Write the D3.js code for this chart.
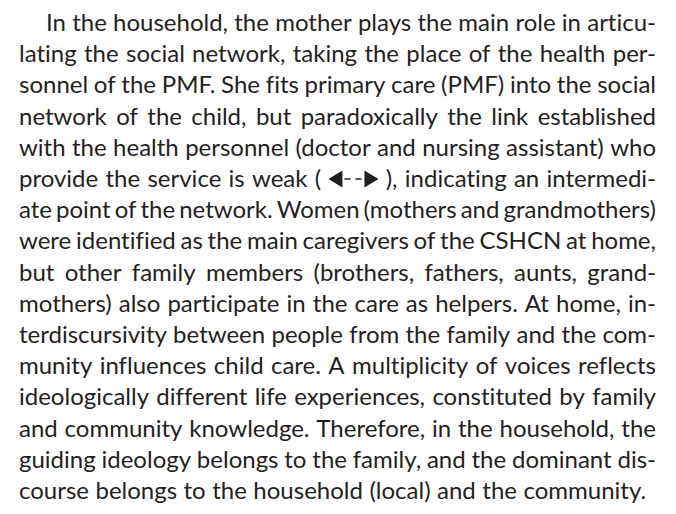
<!DOCTYPE html>
<meta charset="utf-8">
<head>
<style>
  body { margin: 0; background: #fff; }
  text { font-family: Lato, "Open Sans", sans-serif; fill: #231f20; font-variant-ligatures: none; }
</style>
</head>
<body>
<script src="https://d3js.org/d3.v7.js"></script>
<svg width="676" height="514"></svg>
<script>

    // paragraph lines as printed (hyphenation kept); "<->" marks the dashed arrow
    var lines = [
        "In the household, the mother plays the main role in articu-",
        "lating the social network, taking the place of the health per-",
        "sonnel of the PMF. She fits primary care (PMF) into the social",
        "network of the child, but paradoxically the link established",
        "with the health personnel (doctor and nursing assistant) who",
        "provide the service is weak ( <-> ), indicating an intermedi-",
        "ate point of the network. Women (mothers and grandmothers)",
        "were identified as the main caregivers of the CSHCN at home,",
        "but other family members (brothers, fathers, aunts, grand-",
        "mothers) also participate in the care as helpers. At home, in-",
        "terdiscursivity between people from the family and the com-",
        "munity influences child care. A multiplicity of voices reflects",
        "ideologically different life experiences, constituted by family",
        "and community knowledge. Therefore, in the household, the",
        "guiding ideology belongs to the family, and the dominant dis-",
        "course belongs to the household (local) and the community."
    ];
    var indented = [0];          // paragraph starts
    var lastLine = lines.length - 1;   // not justified

    var svg = d3.select("svg"),
        left = 19, right = 656, indent = 27,
        fontSize = 24;

    var y = d3.scaleLinear().domain([0, lines.length - 1]).range([31, 499]);

    lines.forEach(function (line, i) {
        var g = svg.append("g").attr("transform", "translate(0," + y(i) + ")");
        var words = line.split(" ");
        var x0 = left + (indented.indexOf(i) >= 0 ? indent : 0);

        // measure each word
        var items = words.map(function (w) {
            if (w === "<->") {
                var a = g.append("g").attr("class", "arrow");
                return { node: a, w: 50, arrow: true };
            }
            var t = g.append("text").attr("font-size", fontSize).text(w);
            return { node: t, w: t.node().getComputedTextLength() };
        });

        var space = fontSize * 0.27;
        var total = d3.sum(items, function (d) { return d.w; });
        var gap = (i === lastLine || items.length < 2) ? space
            : (right - x0 - total) / (items.length - 1);

        var x = x0;
        items.forEach(function (d) {
            if (d.arrow) {
                // dashed two-headed arrow drawn in the text flow
                var h = -8;
                d.node.append("line")
                    .attr("x1", x + 14).attr("x2", x + d.w - 14)
                    .attr("y1", h).attr("y2", h)
                    .attr("stroke", "#231f20").attr("stroke-width", 1.6)
                    .attr("stroke-dasharray", "6,5")
                    .attr("stroke-dashoffset", -2);
                d.node.append("path")
                    .attr("d", "M" + x + "," + h + "l14,-8.5v17z")
                    .attr("fill", "#231f20");
                d.node.append("path")
                    .attr("d", "M" + (x + d.w) + "," + h + "l-14,-8.5v17z")
                    .attr("fill", "#231f20");
            } else {
                d.node.attr("x", x);
            }
            x += d.w + gap;
        });
    });
</script>
</body>
</html>
